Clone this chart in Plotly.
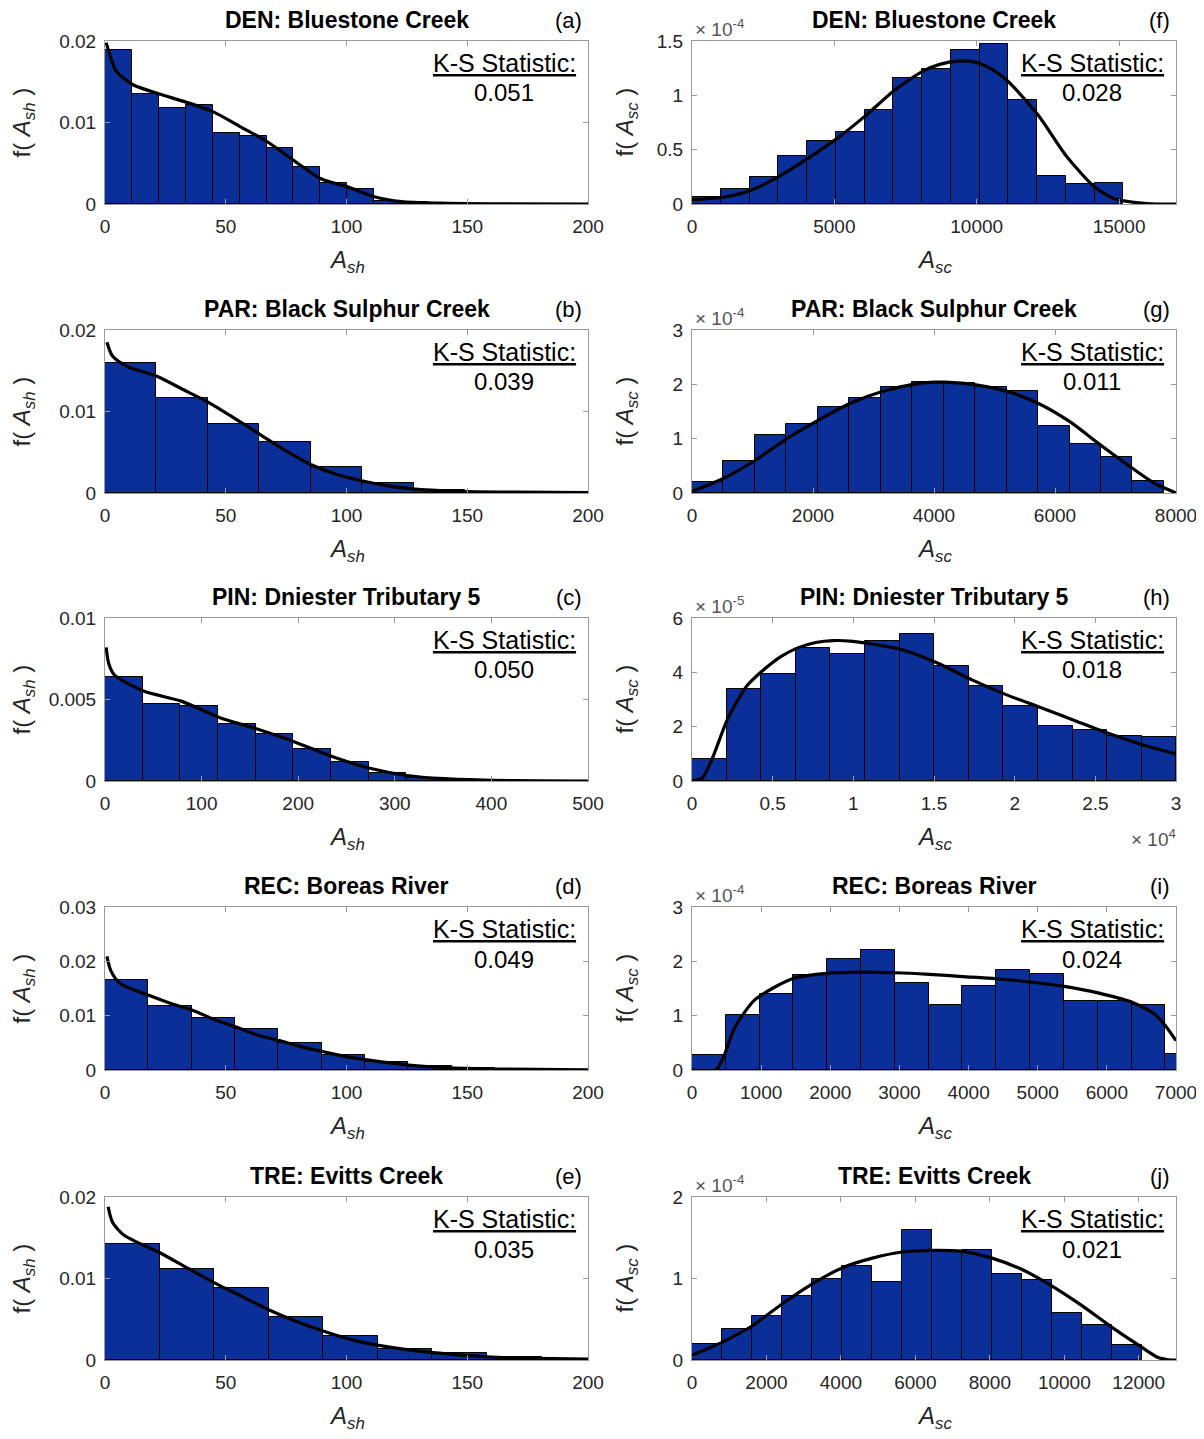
import numpy as np
import plotly.graph_objects as go

# ---------------- data ----------------
# Panel titles / labels / K-S statistics
titles = ["DEN: Bluestone Creek", "PAR: Black Sulphur Creek", "PIN: Dniester Tributary 5",
          "REC: Boreas River", "TRE: Evitts Creek"]
letters_sh = ["(a)", "(b)", "(c)", "(d)", "(e)"]
letters_sc = ["(f)", "(g)", "(h)", "(i)", "(j)"]
ks_sh = ["0.051", "0.039", "0.050", "0.049", "0.035"]
ks_sc = ["0.028", "0.011", "0.018", "0.024", "0.021"]
sc_exponents = [-4, -4, -5, -4, -4]

# ---- A_sh histograms (density) ----
den_sh_binw = 11.15
den_sh_hist = [0.0189, 0.0135, 0.0118, 0.0122, 0.0087, 0.0083, 0.0069, 0.0046, 0.0026, 0.0019, 0.0004, 0.0002]
den_sh_fit_x = [0.5, 4.7, 11.8, 22.5, 33.5, 44.9, 55.9, 66.9, 78.4, 89.4, 100.5, 111.5, 122.8, 138.6, 160, 200]
den_sh_fit_y = [0.0198, 0.0163, 0.0146, 0.0135, 0.0125, 0.0113, 0.0095, 0.0077, 0.0053, 0.0031, 0.0021, 0.0009,
                0.0003, 0.0001, 0.00002, 0.0]

par_sh_binw = 21.3
par_sh_hist = [0.0159, 0.0116, 0.0085, 0.0063, 0.0032, 0.0012, 0.0004, 0.0001]
par_sh_fit_x = [0.8, 3.1, 9.4, 21.7, 32.3, 43.0, 53.5, 64.1, 74.8, 85.2, 95.7, 106.3, 116.5, 127.2, 146.5, 170, 200]
par_sh_fit_y = [0.0185, 0.0168, 0.0155, 0.0143, 0.0127, 0.0111, 0.0092, 0.0072, 0.0052, 0.0035, 0.0023, 0.0015,
                0.0009, 0.0005, 0.0002, 0.0001, 0.00005]

pin_sh_binw = 39.0
pin_sh_hist = [0.0064, 0.00475, 0.0046, 0.0035, 0.00287, 0.00196, 0.00115, 0.0005, 0.0002, 0.00005]
pin_sh_fit_x = [1.2, 3.9, 9.9, 40.6, 78.9, 118.3, 156.6, 196.4, 235.1, 274.2, 312.4, 351.1, 400.4, 450, 500]
pin_sh_fit_y = [0.0082, 0.0072, 0.0065, 0.0055, 0.0049, 0.0039, 0.0032, 0.0024, 0.0015, 0.00078, 0.00034,
                0.00014, 0.00004, 0.00001, 0.0]

rec_sh_binw = 17.95
rec_sh_hist = [0.0165, 0.0118, 0.0096, 0.0076, 0.0050, 0.0027, 0.0015, 0.0007, 0.0003, 0.0001]
rec_sh_fit_x = [0.8, 2.4, 6.3, 18.4, 27.6, 36.2, 45.7, 54.3, 63.3, 72.3, 81.1, 90.1, 99.2, 107.9, 125.7, 143.3,
                162.2, 200]
rec_sh_fit_y = [0.0209, 0.0183, 0.0159, 0.0137, 0.0122, 0.0110, 0.0092, 0.0079, 0.0064, 0.0054, 0.0043, 0.0034,
                0.0025, 0.0019, 0.0009, 0.0004, 0.00018, 0.00003]

tre_sh_binw = 22.6
tre_sh_hist = [0.0142, 0.0112, 0.0088, 0.0053, 0.0029, 0.0014, 0.0008, 0.0004, 0.0001]
tre_sh_fit_x = [1.3, 3.1, 7.9, 23.1, 34.6, 45.7, 56.7, 68.2, 79.5, 90.9, 102.0, 113.4, 135.9, 158.3, 178.0, 200]
tre_sh_fit_y = [0.0188, 0.0169, 0.0153, 0.0131, 0.0112, 0.0094, 0.0078, 0.0061, 0.0047, 0.0035, 0.0025, 0.0018,
                0.0009, 0.0004, 0.0002, 0.0001]

# ---- A_sc histograms (density, in units of 10^exponent) ----
den_sc_binw = 1010
den_sc_hist = [0.06, 0.142, 0.25, 0.44, 0.58, 0.66, 0.864, 1.158, 1.242, 1.415, 1.47, 0.955, 0.258, 0.188, 0.197]
den_sc_fit_x = [0, 1038, 2075, 3086, 4097, 5108, 6119, 7102, 8113, 8700, 9350, 9950, 10500, 11132, 12156, 13154,
                14164, 14879, 15687, 16300, 17000]
den_sc_fit_y = [0.04, 0.06, 0.127, 0.258, 0.424, 0.606, 0.818, 1.045, 1.222, 1.285, 1.315, 1.305, 1.245, 1.12,
                0.818, 0.439, 0.152, 0.045, 0.01, 0.0, 0.0]

par_sc_binw = 520
par_sc_hist = [0.196, 0.58, 1.07, 1.27, 1.59, 1.745, 1.96, 2.04, 2.02, 1.96, 1.87, 1.237, 0.9, 0.66, 0.227]
par_sc_fit_x = [0, 534, 1061, 1582, 2097, 2618, 3145, 3653, 4003, 4174, 4695, 5210, 5718, 6239, 6747, 7274, 7637, 8000]
par_sc_fit_y = [0.03, 0.276, 0.612, 1.01, 1.347, 1.653, 1.868, 2.0, 2.04, 2.04, 1.99, 1.87, 1.653, 1.317, 0.888,
                0.459, 0.184, 0.0]

pin_sc_binw = 2145
pin_sc_hist = [0.8, 3.39, 3.95, 4.9, 4.69, 5.14, 5.41, 4.22, 3.51, 2.75, 2.02, 1.86, 1.65, 1.62]
pin_sc_fit_x = [0, 643, 1239, 2192, 3383, 4336, 5528, 6552, 7672, 8744, 9983, 11961, 13033, 15177, 17322, 19466,
                21682, 23827, 26018, 28163, 30000]
pin_sc_fit_y = [0.0, 0.12, 0.8, 2.26, 3.49, 4.04, 4.59, 4.9, 5.1, 5.17, 5.14, 4.96, 4.83, 4.35, 3.73, 3.18, 2.69,
                2.2, 1.71, 1.29, 1.0]

rec_sc_binw = 489
rec_sc_hist = [0.274, 1.02, 1.40, 1.74, 2.04, 2.21, 1.60, 1.20, 1.54, 1.84, 1.77, 1.27, 1.27, 1.19, 0.29]
rec_sc_fit_x = [0, 344, 456, 622, 900, 1233, 1472, 1956, 2456, 2944, 3433, 3917, 4400, 4889, 5383, 5872, 6356,
                6678, 6844, 7000]
rec_sc_fit_y = [0, 0, 0.24, 0.79, 1.28, 1.55, 1.69, 1.78, 1.80, 1.79, 1.76, 1.72, 1.68, 1.62, 1.54, 1.42, 1.25,
                1.04, 0.82, 0.54]

tre_sc_binw = 805
tre_sc_hist = [0.2, 0.384, 0.537, 0.788, 1.0, 1.15, 0.96, 1.6, 1.34, 1.345, 1.05, 0.98, 0.574, 0.432, 0.18]
tre_sc_fit_x = [0, 816, 1622, 2428, 3223, 4029, 4845, 5651, 6446, 7252, 8058, 8864, 9659, 10465, 11281, 12066,
                12521, 12850, 13000]
tre_sc_fit_y = [0.06, 0.22, 0.42, 0.69, 0.93, 1.13, 1.25, 1.325, 1.345, 1.333, 1.25, 1.11, 0.91, 0.67, 0.40, 0.16,
                0.03, 0.0, 0.0]

# ---- axis settings ----
sh_xrange = [[0, 200], [0, 200], [0, 500], [0, 200], [0, 200]]
sh_yrange = [[0, 0.02], [0, 0.02], [0, 0.01], [0, 0.03], [0, 0.02]]
sh_xticks = [[0, 50, 100, 150, 200]] * 2 + [[0, 100, 200, 300, 400, 500]] + [[0, 50, 100, 150, 200]] * 2
sh_yticks = [[0, 0.01, 0.02], [0, 0.01, 0.02], [0, 0.005, 0.01], [0, 0.01, 0.02, 0.03], [0, 0.01, 0.02]]
sh_yticktext = [["0", "0.01", "0.02"], ["0", "0.01", "0.02"], ["0", "0.005", "0.01"],
                ["0", "0.01", "0.02", "0.03"], ["0", "0.01", "0.02"]]

sc_xrange = [[0, 17000], [0, 8000], [0, 30000], [0, 7000], [0, 13000]]
sc_yrange = [[0, 1.5], [0, 3], [0, 6], [0, 3], [0, 2]]
sc_xticks = [[0, 5000, 10000, 15000], [0, 2000, 4000, 6000, 8000],
             [0, 5000, 10000, 15000, 20000, 25000, 30000],
             [0, 1000, 2000, 3000, 4000, 5000, 6000, 7000],
             [0, 2000, 4000, 6000, 8000, 10000, 12000]]
sc_xticktext = [["0", "5000", "10000", "15000"], ["0", "2000", "4000", "6000", "8000"],
                ["0", "0.5", "1", "1.5", "2", "2.5", "3"],
                ["0", "1000", "2000", "3000", "4000", "5000", "6000", "7000"],
                ["0", "2000", "4000", "6000", "8000", "10000", "12000"]]
sc_yticks = [[0, 0.5, 1, 1.5], [0, 1, 2, 3], [0, 2, 4, 6], [0, 1, 2, 3], [0, 1, 2]]
sc_yticktext = [["0", "0.5", "1", "1.5"], ["0", "1", "2", "3"], ["0", "2", "4", "6"], ["0", "1", "2", "3"],
                ["0", "1", "2"]]

sh_data = [(den_sh_binw, den_sh_hist, den_sh_fit_x, den_sh_fit_y),
           (par_sh_binw, par_sh_hist, par_sh_fit_x, par_sh_fit_y),
           (pin_sh_binw, pin_sh_hist, pin_sh_fit_x, pin_sh_fit_y),
           (rec_sh_binw, rec_sh_hist, rec_sh_fit_x, rec_sh_fit_y),
           (tre_sh_binw, tre_sh_hist, tre_sh_fit_x, tre_sh_fit_y)]
sc_data = [(den_sc_binw, den_sc_hist, den_sc_fit_x, den_sc_fit_y),
           (par_sc_binw, par_sc_hist, par_sc_fit_x, par_sc_fit_y),
           (pin_sc_binw, pin_sc_hist, pin_sc_fit_x, pin_sc_fit_y),
           (rec_sc_binw, rec_sc_hist, rec_sc_fit_x, rec_sc_fit_y),
           (tre_sc_binw, tre_sc_hist, tre_sc_fit_x, tre_sc_fit_y)]

# ---------------- layout geometry ----------------
# page body adds an 8px offset, so the figure is 8px smaller and positions are shifted
OFF = 8
W, H = 1204 - OFF, 1439 - OFF
FONT = "Liberation Sans, Arial, Helvetica, sans-serif"
BAR_COLOR = "#0b2f99"
AX_COLOR = "#9a9a9a"
TXT = "#262626"
col_x = [(105, 588), (692, 1176)]
row_top = [41, 330, 618, 907, 1197]
row_h = 163


def px(x):
    return (x - OFF) / W


def py(y):
    return 1 - (y - OFF) / H


fig = go.Figure()
layout = dict(width=W, height=H, margin=dict(l=0, r=0, t=0, b=0, pad=0, autoexpand=False),
              paper_bgcolor="white", plot_bgcolor="white", showlegend=False, bargap=0,
              font=dict(family=FONT, color=TXT))
annotations = []

k = 0
for col in range(2):
    for row in range(5):
        k += 1
        xa = "x" if k == 1 else f"x{k}"
        ya = "y" if k == 1 else f"y{k}"
        xkey = "xaxis" if k == 1 else f"xaxis{k}"
        ykey = "yaxis" if k == 1 else f"yaxis{k}"
        x0, x1 = col_x[col]
        top = row_top[row]
        bot = top + row_h
        if col == 0:
            binw, hist, fx, fy = sh_data[row]
            xr, yr = sh_xrange[row], sh_yrange[row]
            xtv, xtt = sh_xticks[row], [str(v) for v in sh_xticks[row]]
            ytv, ytt = sh_yticks[row], sh_yticktext[row]
            sub = "sh"
        else:
            binw, hist, fx, fy = sc_data[row]
            xr, yr = sc_xrange[row], sc_yrange[row]
            xtv, xtt = sc_xticks[row], sc_xticktext[row]
            ytv, ytt = sc_yticks[row], sc_yticktext[row]
            sub = "sc"
        centers = binw * (np.arange(len(hist)) + 0.5)
        fig.add_trace(go.Bar(x=centers, y=hist, width=binw, xaxis=xa, yaxis=ya,
                             marker=dict(color=BAR_COLOR, line=dict(color="black", width=1))))
        fig.add_trace(go.Scatter(x=fx, y=fy, mode="lines", xaxis=xa, yaxis=ya,
                                 line=dict(color="black", width=3.2, shape="spline", smoothing=0.7)))
        common = dict(showline=True, linecolor=AX_COLOR, linewidth=1, mirror="ticks", ticks="inside",
                      ticklen=5, tickcolor=AX_COLOR, showgrid=False, zeroline=False, automargin=False,
                      tickfont=dict(size=19, color=TXT, family=FONT))
        layout[xkey] = dict(domain=[px(x0), px(x1)], range=xr, tickvals=xtv, ticktext=xtt, anchor=ya,
                            ticklabelstandoff=5, **common)
        layout[ykey] = dict(domain=[py(bot), py(top)], range=yr, tickvals=ytv, ticktext=ytt, anchor=xa,
                            ticklabelstandoff=4, **common)

        cx = (x0 + x1) / 2
        ttl = titles[row]
        letter = letters_sh[row] if col == 0 else letters_sc[row]
        ks = ks_sh[row] if col == 0 else ks_sc[row]
        annotations.append(dict(x=px(cx), y=py(top - 21), text=f"<b>{ttl}</b>", showarrow=False,
                                xref="paper", yref="paper", xanchor="center", yanchor="middle",
                                font=dict(size=23, color="black")))
        annotations.append(dict(x=px(x1 - 4), y=py(top - 21), text=letter, showarrow=False,
                                xref="paper", yref="paper", xanchor="right", yanchor="middle",
                                font=dict(size=22, color="black")))
        annotations.append(dict(x=px(x1 - 10), y=py(top + 22), text="<u>K-S Statistic:</u>", showarrow=False,
                                xref="paper", yref="paper", xanchor="right", yanchor="middle",
                                font=dict(size=25, color="black")))
        annotations.append(dict(x=px(x1 - 84), y=py(top + 52), text=ks, showarrow=False,
                                xref="paper", yref="paper", xanchor="center", yanchor="middle",
                                font=dict(size=24, color="black")))
        ylab_x = (x0 - 82) if col == 0 else (x0 - 66)
        annotations.append(dict(x=px(ylab_x), y=py((top + bot) / 2),
                                text=f"f( <i>A</i><sub><i>{sub}</i></sub> )", showarrow=False,
                                xref="paper", yref="paper", xanchor="center", yanchor="middle",
                                textangle=-90, font=dict(size=24, color=TXT)))
        annotations.append(dict(x=px(cx), y=py(bot + 57), text=f"<i>A</i><sub><i>{sub}</i></sub>",
                                showarrow=False, xref="paper", yref="paper", xanchor="center",
                                yanchor="middle", font=dict(size=24, color=TXT)))
        if col == 1:
            annotations.append(dict(x=px(x0 + 1), y=py(top - 13),
                                    text=f"× 10<sup>{sc_exponents[row]}</sup>", showarrow=False,
                                    xref="paper", yref="paper", xanchor="left", yanchor="middle",
                                    font=dict(size=19, color="#555555")))
            if row == 2:
                annotations.append(dict(x=px(x1 + 2), y=py(bot + 57), text="× 10<sup>4</sup>",
                                        showarrow=False, xref="paper", yref="paper", xanchor="right",
                                        yanchor="middle", font=dict(size=19, color="#555555")))

layout["annotations"] = annotations
fig.update_layout(**layout)
fig.write_html("out.html")
